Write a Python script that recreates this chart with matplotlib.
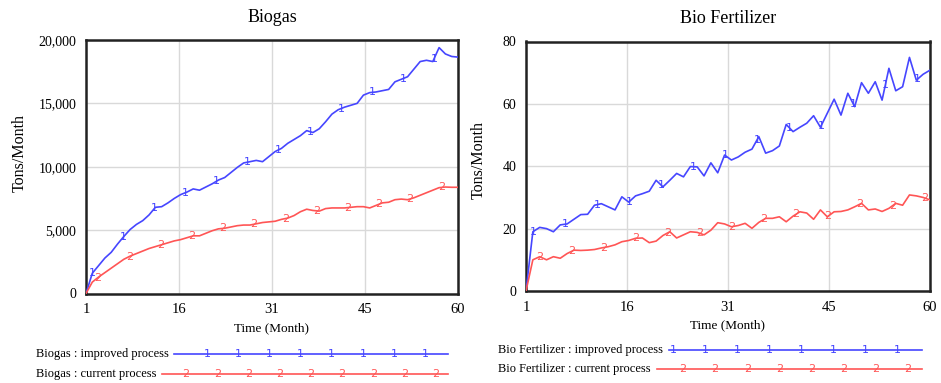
import numpy as np
import matplotlib
matplotlib.use("Agg")
import matplotlib.pyplot as plt
from matplotlib.lines import Line2D

plt.rcParams['font.family'] = ['Liberation Serif', 'DejaVu Serif']

months = np.arange(1, 61)

biogas_improved = [
    0, 1600, 2200, 2800, 3250, 3900, 4500, 5050, 5450, 5750,
    6200, 6800, 6850, 7150, 7500, 7800, 8000, 8250, 8150, 8400,
    8650, 8950, 9150, 9550, 9950, 10300, 10400, 10500, 10400, 10800,
    11200, 11450, 11850, 12150, 12450, 12850, 12700, 13000, 13550, 14150,
    14500, 14700, 14850, 15000, 15650, 15850, 15900, 16000, 16100, 16700,
    16900, 17100, 17700, 18300, 18400, 18300, 19400, 18900, 18700, 18650,
]
biogas_current = [
    0, 900, 1300, 1650, 2000, 2350, 2700, 2950, 3150, 3350,
    3550, 3700, 3850, 4000, 4150, 4250, 4400, 4550, 4550, 4750,
    4950, 5100, 5150, 5250, 5350, 5400, 5400, 5500, 5600, 5650,
    5700, 5850, 5950, 6150, 6450, 6650, 6550, 6500, 6700, 6750,
    6750, 6750, 6800, 6850, 6850, 6750, 6950, 7150, 7200, 7400,
    7450, 7400, 7550, 7750, 7950, 8150, 8350, 8400, 8380, 8380,
]
fert_improved = [
    0, 19, 20.4, 20, 19, 21.2, 21.5, 23, 24.5, 24.6,
    27.5, 28, 27, 26, 30.2, 28.5, 30.5, 31.2, 32, 35.5,
    33.4, 35.5, 37.7, 36.6, 39.9, 39.8, 36.9, 41.1, 37.9, 43.6,
    42, 43, 44.5, 45.5, 49.5, 44.2, 45, 46.5, 53.4, 51.1,
    52.5, 53.8, 56.2, 52.5, 57, 61.5, 56.4, 63.4, 59.1, 66.8,
    63.4, 67.1, 61.2, 71.4, 64.2, 65.5, 74.9, 67.6, 69.5, 70.8,
]
fert_current = [
    0, 10, 11, 10, 11, 10.5, 12, 13.1, 13, 13.1,
    13.3, 13.8, 14.2, 14.8, 15.8, 16.2, 16.9, 17, 15.5, 16,
    17.8, 19, 17, 18, 19, 18.8, 18, 19.5, 21.9, 21.5,
    20.6, 21, 21.7, 20.1, 22, 23.3, 23.3, 23.8, 22.2, 24,
    25.4, 25, 23, 26, 23.8, 25.4, 25.5, 26, 27, 28.1,
    26, 26.3, 25.5, 26.5, 28.1, 27.5, 30.8, 30.5, 30, 29.2,
]

xticks = np.linspace(1, 60, 5)
xtick_labels = ["1", "16", "31", "45", "60"]
biogas_yticks = [0, 5000, 10000, 15000, 20000]
biogas_ylabels = ["0", "5,000", "10,000", "15,000", "20,000"]
fert_yticks = [0, 20, 40, 60, 80]
fert_ylabels = ["0", "20", "40", "60", "80"]

BLUE = "#4646ff"
RED = "#ff5555"
W, H = 941, 383


def px(x, y):
    return x / W, 1 - y / H


def put_markers(ax, y, start, step, glyph, color):
    for t in np.arange(start, 60, step):
        ax.text(t, np.interp(t, months, y), glyph, color=color, fontsize=8,
                family="DejaVu Sans", ha="center", va="center", zorder=4)


def setup(ax, title, yticks, ylabels, ylim):
    ax.set_xlim(1, 60)
    ax.set_ylim(*ylim)
    ax.set_xticks(xticks)
    ax.set_xticklabels(xtick_labels, fontsize=10.5)
    ax.set_yticks(yticks)
    ax.set_yticklabels(ylabels, fontsize=10)
    ax.tick_params(length=0, pad=7)
    ax.grid(True, color="#d9d9d9", linewidth=1.0)
    for s in ax.spines.values():
        s.set_linewidth(1.8)
        s.set_color("#222222")
    ax.set_title(title, fontsize=13, pad=13)


def legend_row(y, x_text, label, x0, x1, m0, mstep, glyph, color):
    fig.text(*px(x_text, y), label, fontsize=9, ha="left", va="center")
    fig.add_artist(Line2D([x0 / W, x1 / W], [1 - y / H, 1 - y / H],
                          color=color, linewidth=1.2))
    for xm in np.arange(m0, x1 - 5, mstep):
        fig.text(*px(xm, y), glyph, color=color, fontsize=8,
                 family="DejaVu Sans", ha="center", va="center")


fig = plt.figure(figsize=(W / 100, H / 100), dpi=100)

ax1 = fig.add_axes([86 / W, 1 - 293.5 / H, 372 / W, 253.5 / H])
ax1.plot(months, biogas_improved, color=BLUE, linewidth=1.2, zorder=3)
ax1.plot(months, biogas_current, color=RED, linewidth=1.2, zorder=3)
put_markers(ax1, biogas_improved, 2.06, 4.92, "1", BLUE)
put_markers(ax1, biogas_current, 2.9, 4.95, "2", RED)
setup(ax1, "Biogas", biogas_yticks, biogas_ylabels, (0, 20000))
fig.text(*px(20, 153), "Tons/Month", rotation=90, fontsize=11.5,
         ha="center", va="center")
fig.text(*px(272, 328), "Time (Month)", fontsize=9.5, ha="center", va="center")

ax2 = fig.add_axes([526 / W, 1 - 291 / H, 404 / W, 249.5 / H])
ax2.plot(months, fert_improved, color=BLUE, linewidth=1.2, zorder=3)
ax2.plot(months, fert_current, color=RED, linewidth=1.2, zorder=3)
put_markers(ax2, fert_improved, 2.0, 4.68, "1", BLUE)
put_markers(ax2, fert_current, 3.0, 4.68, "2", RED)
setup(ax2, "Bio Fertilizer", fert_yticks, fert_ylabels, (0, 80))
fig.text(*px(479, 160), "Tons/Month", rotation=90, fontsize=11.5,
         ha="center", va="center")
fig.text(*px(728, 325), "Time (Month)", fontsize=9.5, ha="center", va="center")

legend_row(354, 36, "Biogas : improved process", 174, 448, 207, 31.2, "1", BLUE)
legend_row(374, 36, "Biogas : current process", 162, 448, 186, 31.2, "2", RED)
legend_row(350, 498, "Bio Fertilizer : improved process", 669, 922, 673, 32.0, "1", BLUE)
legend_row(369, 498, "Bio Fertilizer : current process", 657, 922, 683, 32.1, "2", RED)

fig.savefig("out.png", dpi=100)
